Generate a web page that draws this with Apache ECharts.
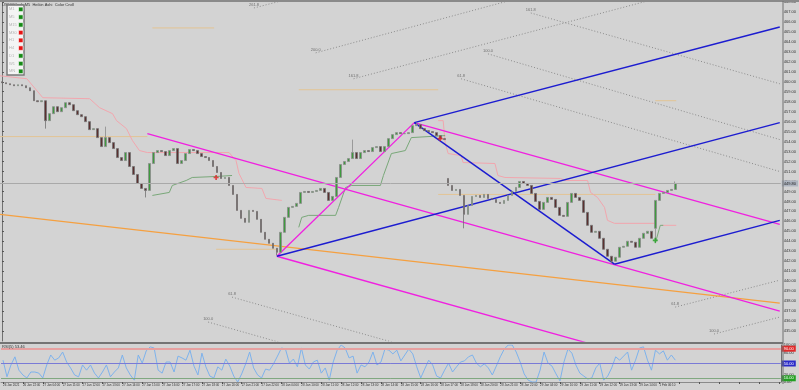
<!DOCTYPE html>
<html><head><meta charset="utf-8">
<script src="https://cdn.jsdelivr.net/npm/echarts@6/dist/echarts.min.js"></script>
<style>html,body{margin:0;padding:0;background:#d3d3d3}#c{width:799px;height:390px}</style>
</head><body><div id="c"></div>
<script>
// ---------- DATA ----------
const chartTitle = "US500Cash,M5  Heikin Ashi  Color Cndl";
const oscTitle = "RSI(5) 53.46";
const timeLabels = ["26 Jan 2021","26 Jan 22:00","27 Jan 04:00","27 Jan 11:00","27 Jan 12:00","27 Jan 13:00","27 Jan 14:00","27 Jan 15:00","27 Jan 16:00","27 Jan 17:00","27 Jan 18:00","27 Jan 20:00","27 Jan 21:00","27 Jan 22:00","28 Jan 04:00","28 Jan 10:00","28 Jan 11:00","28 Jan 12:00","28 Jan 13:00","28 Jan 14:00","28 Jan 15:00","28 Jan 16:00","28 Jan 17:00","28 Jan 18:00","28 Jan 20:00","28 Jan 21:00","28 Jan 22:00","29 Jan 04:00","29 Jan 10:00","29 Jan 11:00","29 Jan 12:00","29 Jan 13:00","29 Jan 14:00","1 Feb 06:10"];
const closes = [459.9,459.8,459.7,459.6,459.7,459.6,459.4,459.1,458.1,458.0,
458.1,456.1,456.8,457.5,457.0,457.4,457.9,457.7,457.1,456.7,
456.5,456.0,455.2,455.3,454.4,453.5,454.4,453.9,453.3,452.4,
452.1,452.9,451.5,450.7,449.8,449.3,449.1,451.8,452.9,453.1,
453.0,452.6,453.1,453.3,451.8,452.1,452.8,453.2,453.1,452.8,
452.5,452.4,452.1,451.5,450.9,450.3,450.4,449.6,448.7,447.1,
446.3,445.9,447.1,447.0,446.2,444.9,444.2,443.8,443.3,442.9,
444.9,446.4,447.4,447.5,447.8,448.9,449.0,448.9,449.0,449.1,
449.3,448.9,448.1,448.5,450.4,451.7,452.0,452.3,452.9,452.3,
452.9,453.1,453.0,453.4,453.5,453.0,453.5,454.3,454.7,454.9,
454.8,454.8,454.9,455.6,455.7,455.3,455.1,455.0,454.9,454.6,
454.3,454.2,449.6,449.1,449.2,448.6,446.7,447.6,448.5,448.6,
448.4,448.7,448.3,448.2,447.9,447.8,448.1,448.6,449.0,449.4,
450.0,449.8,449.6,448.8,448.0,447.2,447.9,448.4,448.2,447.4,
446.6,446.5,447.9,448.8,448.4,448.1,446.9,445.6,444.9,445.0,
444.3,443.2,442.5,442.0,442.4,443.4,443.5,444.0,443.9,443.4,
444.3,444.8,445.0,444.3,448.1,448.8,448.9,449.1,449.2,449.8];
const gapOpens = {0: 460.0, 112: 450.3, 164: 445.3};
const wickLows = {11: 455.3, 36: 448.4, 69: 442.6, 116: 445.3, 153: 441.8, 164: 444.1};
const wickHighs = {26: 455.5, 88: 454.2, 104: 455.9, 169: 450.0};
const rsi = [59,14,46,68,32,19,11,27,27,24,11,46,73,59,65,81,54,38,19,14,
46,32,46,24,11,27,46,14,27,38,73,38,19,5,73,51,84,95,92,32,
24,54,54,27,70,65,59,86,43,19,78,41,16,11,41,32,62,43,16,0,
22,49,81,38,19,11,35,32,49,70,92,89,51,62,41,92,46,35,54,59,
24,38,5,54,86,100,92,65,70,24,46,41,54,81,46,54,89,86,76,86,
57,73,89,76,41,11,35,59,46,16,11,32,51,27,41,54,57,68,73,51,
41,49,38,19,43,68,89,100,100,81,54,22,5,0,0,32,81,51,43,22,
3,54,89,78,46,24,16,8,11,38,51,5,16,38,68,59,70,81,32,59,
92,95,59,32,86,76,84,59,73,59];
const oscLevels = [90, 50, 10];
const tfNames = ["M1","M5","M15","M30","H1","H4","D1","W1","MN"];
const tfUp = [true,true,true,false,false,false,true,true,true];
// trend lines: [barIndex, price]
const blueLines = [
  [[103.5,455.9],[195.25,465.5]],
  [[69,442.5],[195.25,455.9]],
  [[153.75,441.7],[195.25,446.1]],
  [[103.5,455.9],[153.75,441.7]]
];
const magentaLines = [
  [[36.5,454.8],[195.25,437.0]],
  [[103.5,455.9],[195.25,445.7]],
  [[69,442.5],[195.25,428.4]],
  [[69,442.5],[103.5,455.9]]
];
const orangeLine = [[-0.5,446.7],[195.25,437.8]];
const orangeLevels = [
  [[-0.5,454.5],[36.5,454.5]],
  [[37.75,465.4],[53.25,465.4]],
  [[74.5,459.2],[109.5,459.2]],
  [[164,458.1],[169.25,458.1]],
  [[109.5,448.7],[164,448.7]],
  [[53.75,443.2],[68.75,443.2]]
];
const fibLines = [
  {name:"261.8", pts:[[63.25,467.4],[70,468.1]]},
  {name:"200.0", pts:[[78.75,462.9],[127,468.1]]},
  {name:"161.8", pts:[[88.25,460.3],[162,468.1]]},
  {name:"161.8", pts:[[132.75,466.9],[195.25,459.8]]},
  {name:"100.0", pts:[[122,462.8],[195.25,454.2]]},
  {name:"61.8", pts:[[115.25,460.3],[195.25,451.0]]},
  {name:"61.8", pts:[[57.75,438.4],[98.75,433.8]]},
  {name:"100.0", pts:[[51.75,435.9],[70.25,433.8]]},
  {name:"61.8", pts:[[169,437.4],[195.25,440.1]]},
  {name:"100.0", pts:[[178.75,434.7],[195.25,436.4]]}
];
const pinkStops = [
  [[-0.5,460.6],[6.25,460.3],[10.25,458.4],[22,458.3],[24.5,457.4],[27.75,456.8],[28.75,456.1],[31.25,455.3],[32.75,454.1],[34.5,453.1],[36.5,452.9],[57,452.9],[58.75,452.1],[59.5,450.8],[61.25,449.4],[65.25,449.3],[66.25,448.3],[70.25,448.1]],
  [[109.5,456.1],[110.75,456.1],[111.25,453.9],[112,452.8],[115.25,452.6],[115.75,451.9],[123.75,451.8],[124.5,450.6],[126.25,450.4],[140.25,450.3],[141.25,450.1],[147,450.1],[147.75,448.9],[149.5,448.4],[151.25,447.4],[152,446.1],[153.75,445.8],[163.75,445.8]],
  [[165.75,445.6],[169.25,445.6]]
];
const greenStops = [
  [[37.75,448.6],[42,448.9],[42.75,449.6],[46.25,450.1],[47.75,450.4],[53.75,450.5],[57.75,450.6]],
  [[74.5,445.4],[75.25,446.4],[77,446.6],[83.75,446.6],[84.5,447.4],[86.25,449.4],[87.75,449.6],[95,449.6],[95.75,450.6],[97.75,452.8],[101.25,453.1],[102.75,454.4],[111.25,454.6]],
  [[164,443.8],[165.25,445.6],[166,445.6]]
];
const redMarks = [[53.75,450.4],[110,454.3]];
const greenMarks = [[164,444.1]];
const nCategories = 196;

// ---------- BUILD ----------
const cats = [];
for (let i = 0; i < nCategories; i++) cats.push(String(i));
const candles = closes.map((c, i) => {
  const o = gapOpens[i] !== undefined ? gapOpens[i] : closes[i - 1];
  const lo = wickLows[i] !== undefined ? wickLows[i] : Math.min(o, c);
  const hi = wickHighs[i] !== undefined ? wickHighs[i] : Math.max(o, c);
  return [o, c, lo, hi];
});
const lastClose = closes[closes.length - 1];
const FONT = 'Liberation Sans Narrow, Liberation Sans, DejaVu Sans';

function lineSeries(pts, color, width, type) {
  return {type:'line', xAxisIndex:2, yAxisIndex:0, data:pts, showSymbol:false, silent:true,
    lineStyle:{color:color, width:width, type:type||'solid'}, animation:false, z:3};
}
const series = [];
series.push({
  type:'candlestick', xAxisIndex:0, yAxisIndex:0, data:candles, barWidth:2.2, z:4,
  itemStyle:{color:'#3e9b3e', color0:'#5c3030', borderColor:'#8c8c8c', borderColor0:'#727272', borderWidth:0.8},
  markLine:{symbol:'none', silent:true, data:[{yAxis:lastClose}],
    lineStyle:{color:'#a9a9a9', type:'solid', width:1},
    label:{position:'end', distance:1, formatter:p=>p.value.toFixed(2), backgroundColor:'#aeb5c0', color:'#222', fontSize:4, fontFamily:FONT, padding:[1,2]}}
});
orangeLevels.forEach(p => series.push(lineSeries(p, '#e3c494', 1)));
fibLines.forEach(f => series.push(lineSeries(f.pts, '#8c8c8c', 1, [1,2])));
series.push({type:'scatter', xAxisIndex:2, yAxisIndex:0, symbolSize:0, silent:true, z:5,
  data:fibLines.map(f => ({name:f.name, value:f.pts[0]})),
  label:{show:true, formatter:'{b}', position:'top', distance:1, fontSize:4, color:'#555', fontFamily:FONT}});
pinkStops.forEach(p => series.push(lineSeries(p, '#f2a6ae', 1)));
greenStops.forEach(p => series.push(lineSeries(p, '#79a879', 1)));
series.push(lineSeries(orangeLine, '#f5a040', 1.4));
magentaLines.forEach(p => series.push(lineSeries(p, '#f020e0', 1.3)));
blueLines.forEach(p => series.push(lineSeries(p, '#1c1cd0', 1.5)));
series.push({type:'scatter', xAxisIndex:2, yAxisIndex:0, symbol:'path://M2,0H4V2H6V4H4V6H2V4H0V2H2Z', symbolSize:5, data:redMarks, itemStyle:{color:'#e02020'}, silent:true, z:6});
series.push({type:'scatter', xAxisIndex:2, yAxisIndex:0, symbol:'path://M2,0H4V2H6V4H4V6H2V4H0V2H2Z', symbolSize:5, data:greenMarks, itemStyle:{color:'#20a020'}, silent:true, z:6});
series.push({type:'line', xAxisIndex:1, yAxisIndex:1, data:rsi, showSymbol:false, silent:true,
  lineStyle:{color:'#7db2ec', width:1}, z:4,
  markLine:{symbol:'none', silent:true,
    data:[
      {yAxis:oscLevels[0], lineStyle:{color:'#e6a0a0', width:2}, label:{backgroundColor:'#e02a2a'}},
      {yAxis:oscLevels[1], lineStyle:{color:'#7a7ad6', width:1}, label:{backgroundColor:'#2a2ac8'}},
      {yAxis:oscLevels[2], lineStyle:{color:'#80a880', width:1}, label:{backgroundColor:'#22a022'}}
    ],
    lineStyle:{type:'solid'},
    label:{position:'end', distance:1, formatter:p=>p.value.toFixed(2), color:'#fff', fontSize:4, fontFamily:FONT, padding:[1,2]}}
});

const graphic = [
  {type:'line', shape:{x1:0,y1:1,x2:799,y2:1}, style:{stroke:'#8a8a8a', lineWidth:2}, z:10},
  {type:'line', shape:{x1:0,y1:343,x2:783,y2:343}, style:{stroke:'#555', lineWidth:1.5}, z:10},
  {type:'line', shape:{x1:783,y1:1,x2:783,y2:384}, style:{stroke:'#707070', lineWidth:1}, z:10},
  {type:'text', left:2, top:3, style:{text:chartTitle, fontSize:4, fill:'#333', fontFamily:FONT}, z:10},
  {type:'text', left:2, top:345, style:{text:oscTitle, fontSize:4, fill:'#333', fontFamily:FONT}, z:10},
  {type:'rect', shape:{x:7,y:5,width:17,height:70}, style:{fill:'#f4f4f4', stroke:'#7a7a7a', lineWidth:1.5}, z:10}
];
tfNames.forEach((n, k) => {
  const y = 9.3 + k * 7.75;
  graphic.push({type:'text', x:9, y:y - 2, style:{text:n, fontSize:4, fill:'#b4b4b4', fontFamily:FONT}, z:11});
  graphic.push({type:'rect', shape:{x:18.5, y:y - 2.2, width:4.5, height:4.5}, style:{fill:tfUp[k] ? '#168a16' : '#e61414', stroke:'#ffffff', lineWidth:0.6}, z:11});
});

const option = {
  animation:false,
  backgroundColor:'#d3d3d3',
  grid:[{left:0, right:16, top:1, height:340}, {left:0, right:16, top:345, height:37}],
  xAxis:[
    {type:'category', gridIndex:0, data:cats, show:false, boundaryGap:true},
    {type:'category', gridIndex:1, data:cats, boundaryGap:true,
      axisLine:{show:true, lineStyle:{color:'#8a8a8a'}},
      axisTick:{show:true, interval:4, alignWithLabel:true, length:2, lineStyle:{color:'#555'}},
      axisLabel:{interval:4, align:'left', margin:2, fontSize:3, color:'#333', fontFamily:FONT,
        formatter:(v, i) => (i % 5 === 0 && timeLabels[i / 5]) ? timeLabels[i / 5] : ''}},
    {type:'value', gridIndex:0, min:-0.5, max:nCategories - 0.5, show:false}
  ],
  yAxis:[
    {type:'value', gridIndex:0, position:'right', min:434, max:468, interval:1, scale:true,
      splitLine:{show:false}, axisLine:{show:true, lineStyle:{color:'#707070'}},
      axisTick:{show:true, length:2, lineStyle:{color:'#555'}},
      axisLabel:{fontSize:4, color:'#333', margin:3, fontFamily:FONT, showMinLabel:false, formatter:v=>v.toFixed(2)}},
    {type:'value', gridIndex:1, position:'right', min:0, max:100, interval:10,
      splitLine:{show:false}, axisLine:{show:true, lineStyle:{color:'#707070'}},
      axisTick:{show:false},
      axisLabel:{fontSize:4, color:'#333', margin:3, fontFamily:FONT,
        formatter:v => (v===100||v===80||v===20||v===0) ? v.toFixed(2) : ''}}
  ],
  graphic:graphic,
  series:series
};
const chart = echarts.init(document.getElementById('c'), null, {renderer:'canvas'});
chart.setOption(option);
</script></body></html>
